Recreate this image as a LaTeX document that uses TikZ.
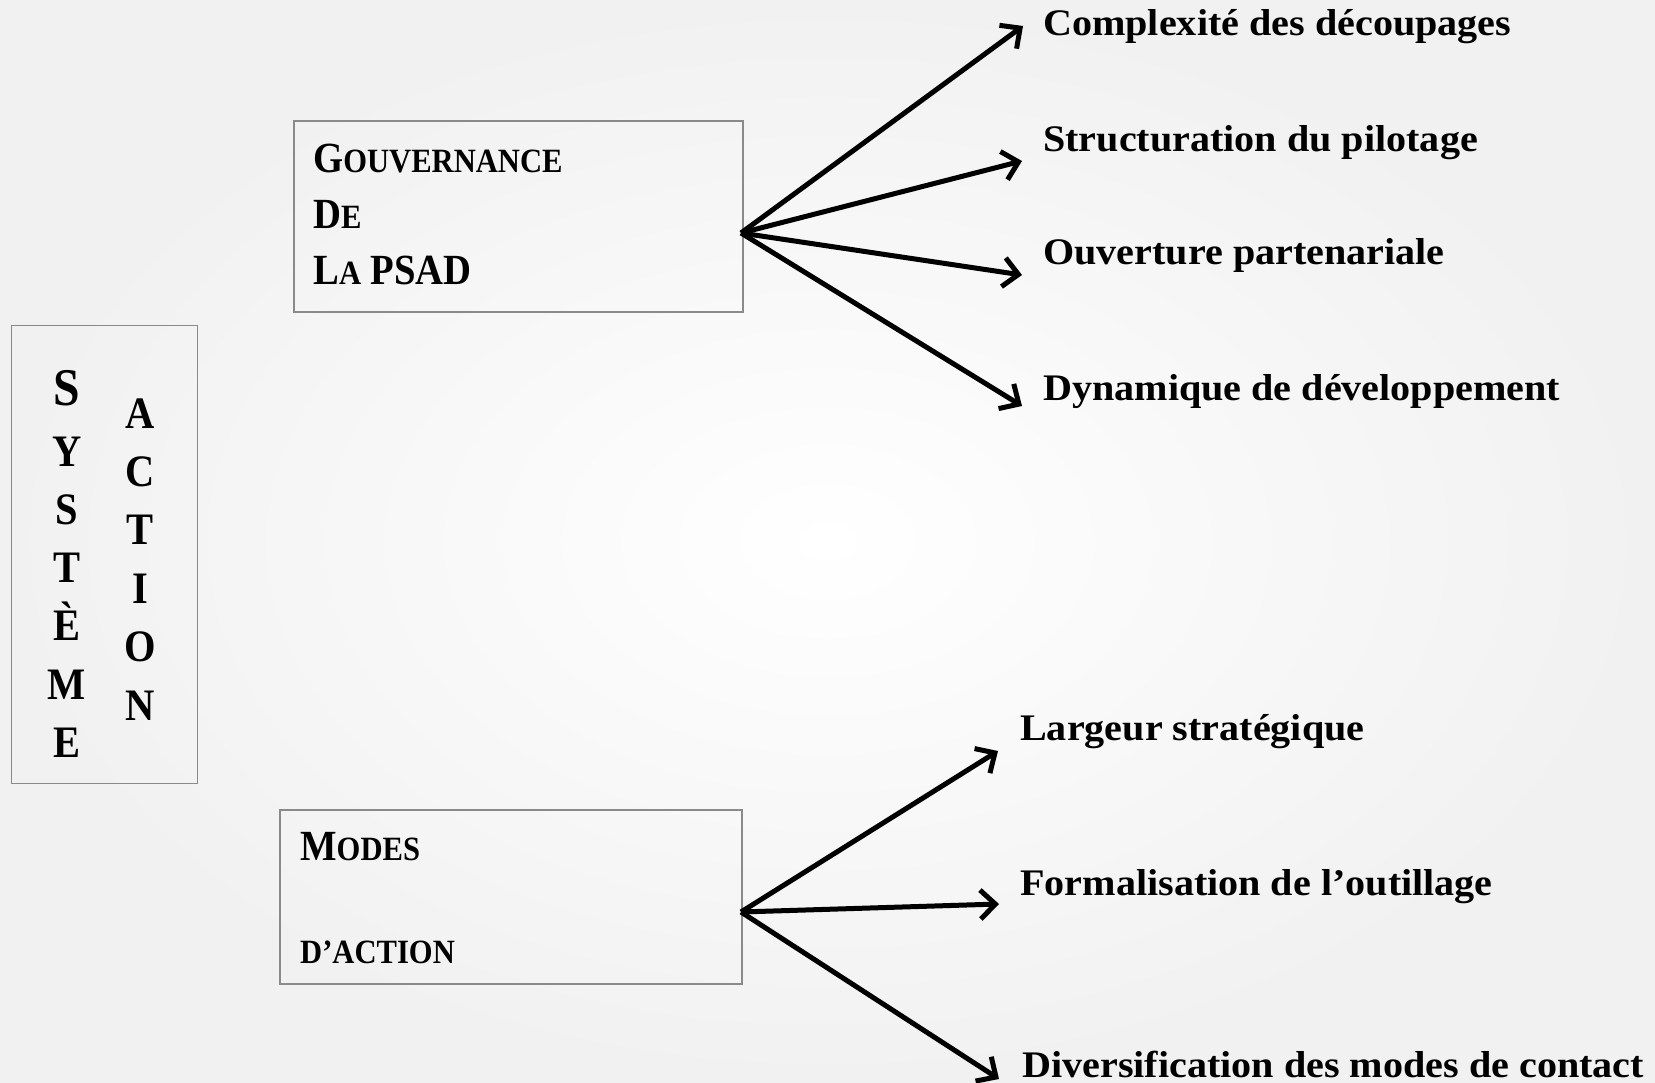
\documentclass[tikz,border=0pt]{standalone}
\usepackage{fontspec}
\setmainfont{Liberation Serif}[FakeStretch=1.07]
\newfontfamily\capsfont{Liberation Serif}[FakeStretch=0.9]
\usepackage{tikz}
\usetikzlibrary{arrows.meta,positioning,calc}
\definecolor{boxline}{HTML}{8A8A8A}
\definecolor{bgedge}{HTML}{F1F1F1}
\newcommand{\bigcp}[1]{{\fontsize{43}{56}\selectfont #1}}
\newcommand{\smallcp}[1]{{\fontsize{34}{56}\selectfont #1}}

\begin{document}
\begin{tikzpicture}[x=1pt,y=-1pt,
  framebox/.style={draw=boxline,line width=1.6pt,inner sep=0pt},
  boxtext/.style={anchor=base west,inner sep=0pt,font=\capsfont\bfseries},
  letter/.style={anchor=base,inner sep=0pt,font=\capsfont\bfseries\fontsize{45}{54}\selectfont},
  item/.style={anchor=base west,inner sep=0pt,font=\bfseries\fontsize{37.5}{44}\selectfont},
  branch/.style={line width=5pt,-{Straight Barb[length=15pt,width=29pt]}}]
\shade[inner color=white,outer color=bgedge] (0,0) rectangle (1655,1083);
\useasboundingbox (0,0) rectangle (1655,1083);

% left frame
\node[framebox,minimum width=186pt,minimum height=458pt] (sys) at (104.5,554.5) {};
\node[letter,font=\capsfont\bfseries\fontsize{53}{54}\selectfont] (sys0) at (67,405) {S};
\foreach \ch [count=\i] in {Y,S,T,È,M,E}
  \node[letter] (sys\i) at (67,408+58.2*\i) {\ch};
\foreach \ch [count=\i from 0] in {A,C,T,I,O,N}
  \node[letter] (act\i) at (140,428+58.4*\i) {\ch};

% upper frame
\node[framebox,anchor=north west,minimum width=449pt,minimum height=191pt] (gov) at (293,120) {};
\node[boxtext] (gov1) at (313,173) {\bigcp{G}\smallcp{OUVERNANCE}};
\node[boxtext] (gov2) at (313,229) {\bigcp{D}\smallcp{E}};
\node[boxtext] (gov3) at (313,285) {\bigcp{L}\smallcp{A}\bigcp{~PSAD}};

% lower frame
\node[framebox,anchor=north west,minimum width=462pt,minimum height=174pt] (mod) at (279,809) {};
\node[boxtext] (mod1) at (300,860) {\bigcp{M}\smallcp{ODES}};
\node[boxtext] (mod2) at (300,963) {\smallcp{D’ACTION}};

% labels
\node[item] (c1) at (1043,36) {Complexité des découpages};
\node[item] (c2) at (1043,152) {Structuration du pilotage};
\node[item] (c3) at (1043,265) {Ouverture partenariale};
\node[item] (c4) at (1043,400) {Dynamique de développement};
\node[item] (l1) at (1020,740) {Largeur stratégique};
\node[item] (l2) at (1020,895) {Formalisation de l’outillage};
\node[item] (l3) at (1022,1077) {Diversification des modes de contact};

% arrows
\coordinate (gsrc) at (741,233);
\coordinate (msrc) at (741,912);
\coordinate (tc1) at (1023,26);
\coordinate (tc2) at (1022,161);
\coordinate (tc3) at (1022,275);
\coordinate (tc4) at (1022,406);
\coordinate (tl1) at (998,751);
\coordinate (tl2) at (999,904);
\coordinate (tl3) at (999,1079);
\foreach \t in {tc1,tc2,tc3,tc4} \draw[branch] (gsrc) -- (\t);
\foreach \t in {tl1,tl2,tl3} \draw[branch] (msrc) -- (\t);
\end{tikzpicture}
\end{document}
